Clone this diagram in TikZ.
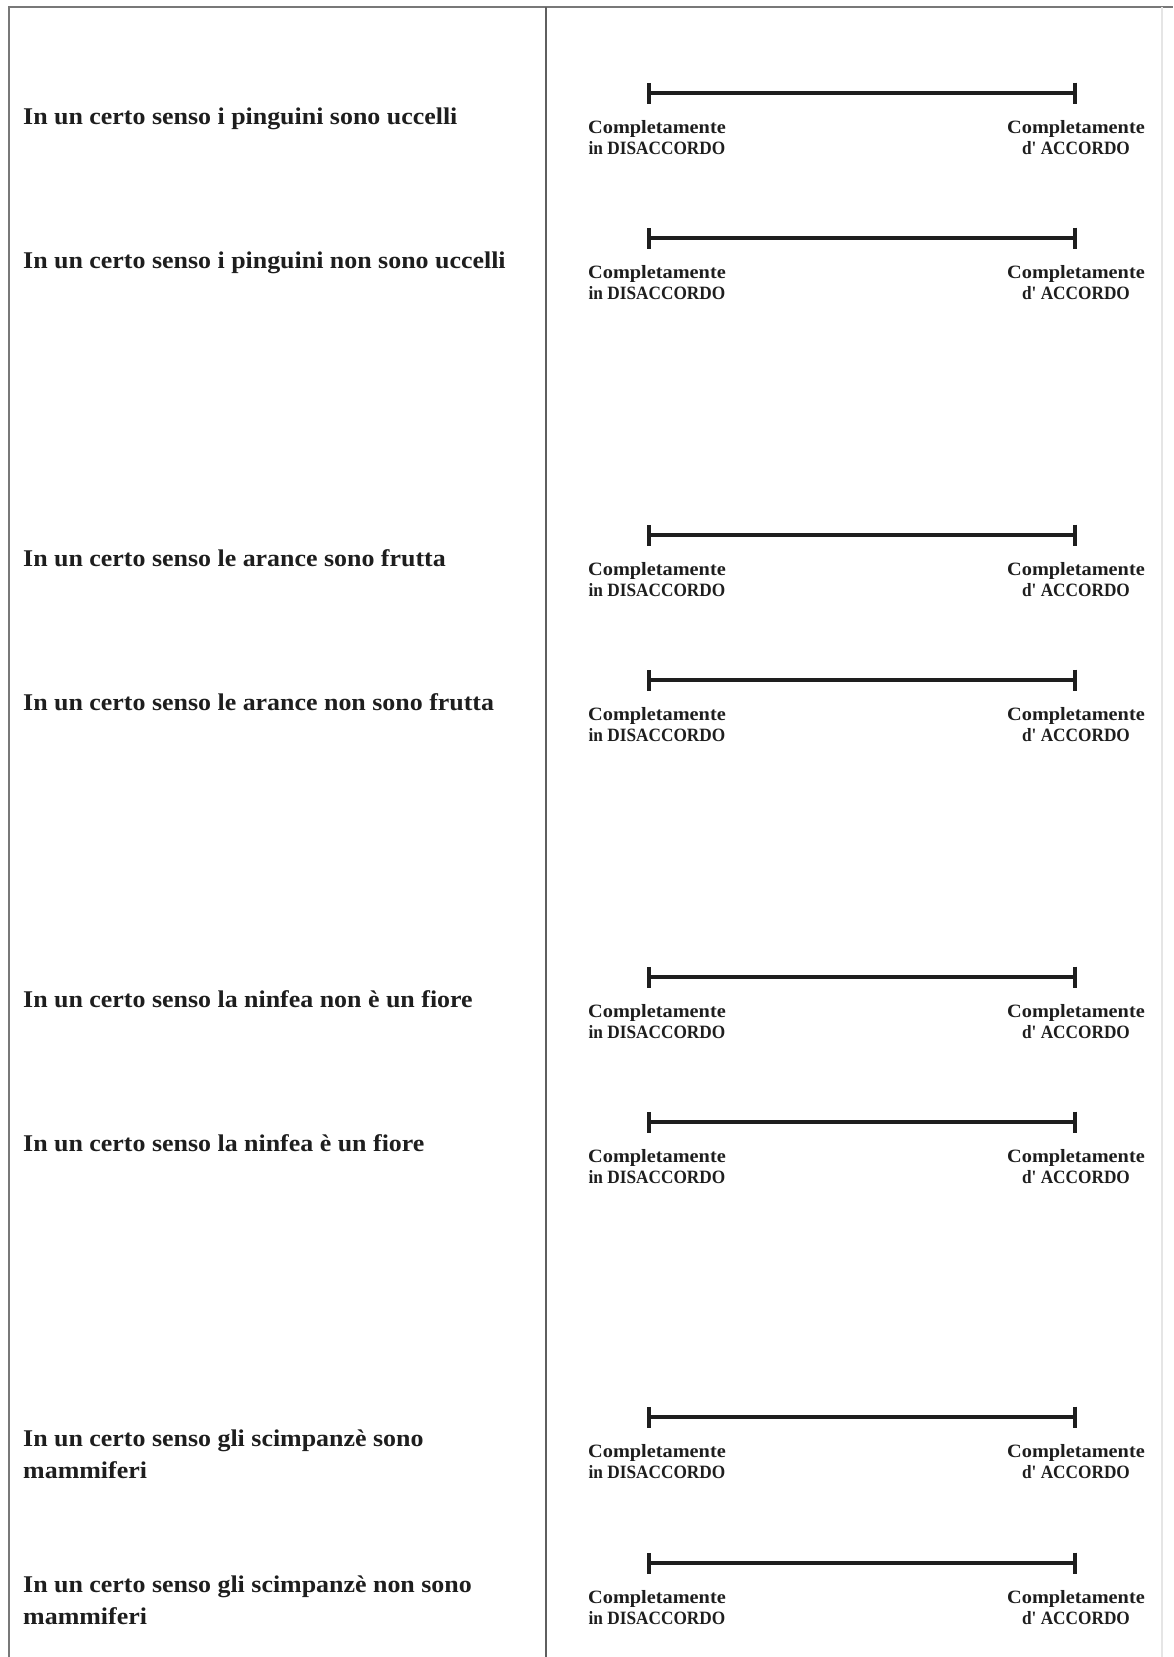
\documentclass[tikz,border=0pt]{standalone}
\usepackage{fontspec}
\usepackage{graphicx}
\newfontfamily\qfont{Liberation Serif}[FakeStretch=1.08]
\usetikzlibrary{arrows.meta}
\definecolor{framegray}{RGB}{120,120,120}
\definecolor{divgray}{RGB}{95,95,95}
\definecolor{ink}{RGB}{30,30,30}
\newcommand{\capline}[1]{\scalebox{0.85}[1]{#1}}
\begin{document}
\begin{tikzpicture}[x=1pt,y=-1pt,
  qtext/.style={anchor=base west, inner sep=0pt, text=ink, align=left,
    font=\qfont\bfseries\fontsize{24}{32}\selectfont},
  qtexttwo/.style={anchor=north west, inner sep=0pt, text=ink, align=left,
    font=\qfont\bfseries\fontsize{24}{32}\selectfont},
  lab/.style={anchor=north, inner sep=0pt, text=ink, align=center,
    font=\qfont\bfseries\fontsize{18.8}{21.5}\selectfont},
  scalebar/.style={line width=4.5pt, draw=ink,
    arrows={Bar[width=21pt,line width=4pt]-Bar[width=21pt,line width=4pt]}},
  frameline/.style={draw=framegray, line width=2.2pt},
  divline/.style={draw=divgray, line width=2.2pt}]
\useasboundingbox (0,0) rectangle (1173,1657);
\fill[white] (0,0) rectangle (1173,1657);

% frame
\coordinate (tl) at (9,7);
\coordinate (tr) at (1173,7);
\coordinate (bl) at (9,1657);
\coordinate (dt) at (546,7);
\coordinate (db) at (546,1657);
\coordinate (rt) at (1162,7);
\coordinate (rb) at (1162,1657);
\draw[frameline] (bl) -- (tl) -- (tr);
\draw[divline] (dt) -- (db);
\draw[draw=black!10, line width=1.5pt] (rt) -- (rb);

% statements
\node[qtext] (t1) at (23,124) {In un certo senso i pinguini sono uccelli};
\node[qtext] (t2) at (23,268) {In un certo senso i pinguini non sono uccelli};
\node[qtext] (t3) at (23,566) {In un certo senso le arance sono frutta};
\node[qtext] (t4) at (23,710) {In un certo senso le arance non sono frutta};
\node[qtext] (t5) at (23,1007) {In un certo senso la ninfea non è un fiore};
\node[qtext] (t6) at (23,1151) {In un certo senso la ninfea è un fiore};
\node[qtexttwo] (t7) at (23,1430) {In un certo senso gli scimpanzè sono\\mammiferi};
\node[qtexttwo] (t8) at (23,1576) {In un certo senso gli scimpanzè non sono\\mammiferi};

% rating scales
\foreach \i/\y in {1/93,2/238,3/535,4/680,5/977,6/1122,7/1417,8/1563}{
  \coordinate (L\i) at (647,\y);
  \coordinate (R\i) at (1077,\y);
  \draw[scalebar] (L\i) -- (R\i);
  \node[lab] (dis\i) at (657,\y+27) {Completamente\\\capline{in DISACCORDO}};
  \node[lab] (acc\i) at (1076,\y+27) {Completamente\\\capline{d' ACCORDO}};
}
\end{tikzpicture}
\end{document}
